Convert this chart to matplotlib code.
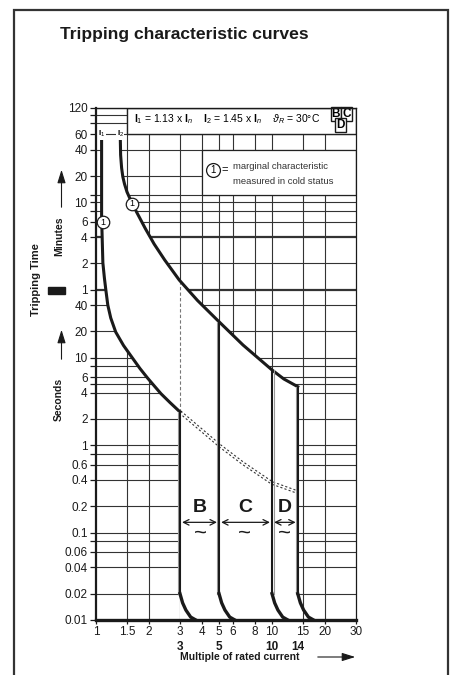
import numpy as np
import matplotlib.pyplot as plt
import matplotlib.patheffects as pe
from matplotlib.patches import Rectangle

plt.rcParams['font.family'] = ['Liberation Sans', 'DejaVu Sans']
plt.rcParams['mathtext.fontset'] = 'custom'
plt.rcParams['mathtext.rm'] = 'Liberation Sans'
plt.rcParams['mathtext.it'] = 'Liberation Sans:italic'
plt.rcParams['mathtext.bf'] = 'Liberation Sans:bold'

# time axis in seconds (upper part labelled in minutes)
y_ticks = [0.01, 0.02, 0.04, 0.06, 0.1, 0.2, 0.4, 0.6, 1, 2, 4, 6, 10, 20, 40,
           60, 120, 240, 360, 600, 1200, 2400, 3600, 7200]
y_labels = ['0.01', '0.02', '0.04', '0.06', '0.1', '0.2', '0.4', '0.6', '1', '2', '4', '6',
            '10', '20', '40', '1', '2', '4', '6', '10', '20', '40', '60', '120']
y_minor = [0.08, 0.8, 5, 8, 480, 720, 4800, 6000]
y_thick = [60, 240]

x_ticks = [1, 1.5, 2, 3, 4, 5, 6, 8, 10, 15, 20, 30]
x_labels = ['1', '1.5', '2', '3', '4', '5', '6', '8', '10', '15', '20', '30']

# magnetic trip limits (bold second row) and top of each vertical line
x_limits = [3, 5, 10, 14]
limit_top = [2.4, 25.8, 7.25, 4.67]
limit_side = [-1.5, -1.5, 1.5, -1.5]

# lower thermal curve (I1) and upper thermal curve (I2)
lower_x = [1.076, 1.076, 1.087, 1.094, 1.116, 1.137, 1.167, 1.213, 1.294, 1.434,
           1.607, 1.776, 1.962, 2.144, 2.34, 2.63, 3.0]
lower_t = [3300, 408, 195, 122, 81.9, 60, 40, 28.5, 19.7, 13.8,
           10, 7.55, 5.87, 4.76, 3.88, 3.08, 2.4]
upper_x = [1.374, 1.38, 1.398, 1.42, 1.452, 1.5, 1.567, 1.668, 1.906, 2.14, 2.456, 2.97,
           3.77, 4.88, 6.84, 10, 11.67, 14]
upper_t = [3300, 2090, 1484, 1180, 974, 789, 647, 500, 301, 200, 131.5, 77.6,
           45.3, 27.1, 14.0, 7.25, 5.72, 4.67]

# dashed guide at 3 x In between the two curves
dashed_t = [2.4, 77]

# dotted continuation of lower curve
dotted_x = [3, 5.07, 6.84, 10, 14]
dotted_t = [2.4, 0.98, 0.62, 0.37, 0.29]

# bottom tails of the magnetic lines (ratio to limit, time)
tail_ratio = [1, 1.035, 1.08, 1.15, 1.23]
tail_t = [0.02, 0.0157, 0.013, 0.0108, 0.01]

# curve markers "1"
marker_x = [1.10, 1.60]
marker_t = [355, 580]

# B / C / D ranges
band_names = ['B', 'C', 'D']
band_lo = [3, 5, 10]
band_hi = [5, 10, 14]
band_mid = [3.9, 7.0, 11.8]

fig = plt.figure(figsize=(4.62, 6.75), dpi=100)
ax = fig.add_axes([96 / 462, 1 - 620 / 675, 260 / 462, 512 / 675])
ax.set_xscale('log')
ax.set_yscale('log')
ax.set_xlim(1, 30)
ax.set_ylim(0.01, 7200)

grid_c = '#333333'
for t in y_ticks + y_minor:
    ax.axhline(t, color=grid_c, lw=1.6 if t in y_thick else 0.8, zorder=1)
for x in x_ticks[1:-1]:
    ax.axvline(x, color=grid_c, lw=0.8, zorder=1)

# white area between the curves
poly_x = lower_x + [3, 14] + upper_x[::-1]
poly_t = lower_t + [0.01, 0.01] + upper_t[::-1]
ax.fill(poly_x, poly_t, color='white', zorder=2, lw=0)

# header box and legend box
ax.add_patch(Rectangle((1.5, 3600), 28.5, 3600, facecolor='white', edgecolor='#222222',
                       lw=1, zorder=3))
ax.add_patch(Rectangle((4, 720), 26, 1680, facecolor='white', edgecolor='#222222',
                       lw=0.9, zorder=3))

ax.plot(lower_x, lower_t, color='#1a1a1a', lw=2.2, zorder=4, solid_joinstyle='round')
ax.plot(upper_x, upper_t, color='#1a1a1a', lw=2.2, zorder=4, solid_joinstyle='round')

ax.plot([x_limits[0], x_limits[0]], dashed_t, color='#777777', lw=0.8,
        ls=(0, (3, 2)), zorder=3)

# dotted double line
ax.plot(dotted_x, dotted_t, color='#333333', lw=2.6, ls=(0, (0.6, 0.6)), zorder=3)
ax.plot(dotted_x, dotted_t, color='white', lw=1.0, zorder=3)

for xl, top, side in zip(x_limits, limit_top, limit_side):
    ax.plot([xl, xl], [top, tail_t[0]], color='#1a1a1a', lw=1.5, zorder=4,
            path_effects=[pe.Stroke(linewidth=0.8, foreground='#999999', offset=(side, 0)),
                          pe.Normal()])
    ax.plot([xl * r for r in tail_ratio], tail_t, color='#1a1a1a', lw=2.4, zorder=4)

for mx, mt in zip(marker_x, marker_t):
    ax.plot(mx, mt, 'o', ms=9, mfc='white', mec='#1a1a1a', mew=0.9, zorder=5)
    ax.text(mx, mt, '1', ha='center', va='center', fontsize=6.5, zorder=6)

# legend text
ax.plot(4.6, 1400, 'o', ms=10, mfc='white', mec='#1a1a1a', mew=0.9, zorder=5)
ax.text(4.6, 1400, '1', ha='center', va='center', fontsize=7, zorder=6)
ax.text(5.15, 1400, '=', ha='left', va='center', fontsize=8, zorder=6)
ax.text(6.0, 1530, 'marginal characteristic', ha='left', va='center', fontsize=6.8,
        color='#333333', zorder=6)
ax.text(6.0, 1040, 'measured in cold status', ha='left', va='center', fontsize=6.8,
        color='#333333', zorder=6)

# header text
ax.text(0.145, 0.979, r'$\mathbf{I}_1$ = 1.13 x $\mathbf{I}_n$    $\mathbf{I}_2$ = 1.45 x $\mathbf{I}_n$    '
        r'$\vartheta_R$ = 30°C', transform=ax.transAxes, ha='left', va='center',
        fontsize=7.5, zorder=6)
for name, bx, by in [('B', 0.922, 0.989), ('C', 0.964, 0.989), ('D', 0.940, 0.967)]:
    ax.text(bx, by, name, transform=ax.transAxes, ha='center', va='center', fontsize=8.5,
            fontweight='bold', zorder=6,
            bbox=dict(boxstyle='square,pad=0.08', fc='white', ec='#1a1a1a', lw=1))

for lx, lab in zip([lower_x[0], upper_x[0]], ['1', '2']):
    ax.text(lx, 3600, r'$\mathbf{I}_%s$' % lab, ha='center', va='center', fontsize=6,
            zorder=6, bbox=dict(boxstyle='square,pad=0.05', fc='white', ec='none'))

for name, lo, hi, mid in zip(band_names, band_lo, band_hi, band_mid):
    ax.text(mid, 0.195, name, ha='center', va='center', fontsize=14, fontweight='bold',
            color='#1a1a1a', zorder=6)
    ax.annotate('', xy=(lo, 0.131), xytext=(hi, 0.131),
                arrowprops=dict(arrowstyle='<->', lw=0.9, color='#1a1a1a',
                                shrinkA=1.5, shrinkB=1.5), zorder=6)
    ax.text(mid, 0.098, '~', ha='center', va='center', fontsize=16, color='#1a1a1a', zorder=6)

ax.set_xticks(x_ticks)
ax.set_xticklabels(x_labels)
ax.set_xticks([], minor=True)
ax.set_yticks(y_ticks)
ax.set_yticklabels(y_labels)
ax.set_yticks(y_minor, minor=True)
ax.tick_params(axis='both', which='both', direction='out', color='#1a1a1a',
               labelsize=8.5, labelcolor='#1a1a1a')
ax.tick_params(axis='y', which='major', length=4, width=0.9, pad=2)
ax.tick_params(axis='y', which='minor', length=4, width=0.9)
ax.tick_params(axis='x', which='major', length=3, width=0.9, pad=1.5)

for xl in x_limits:
    ax.text(xl, -0.052, str(xl), transform=ax.get_xaxis_transform(), ha='center',
            va='center', fontsize=8.5, fontweight='bold', color='#1a1a1a')

ax.spines['left'].set_linewidth(1.6)
ax.spines['bottom'].set_linewidth(2.4)
ax.spines['right'].set_linewidth(0.9)
ax.spines['top'].set_linewidth(1.0)
for s in ax.spines.values():
    s.set_color('#1a1a1a')
    s.set_zorder(7)

# figure texts
fig.text(60 / 462, 1 - 35 / 675, 'Tripping characteristic curves', ha='left', va='center',
         fontsize=12.6, fontweight='bold', color='#1a1a1a')
fig.text(36 / 462, 1 - 280 / 675, 'Tripping Time', rotation=90, ha='center', va='center',
         fontsize=8, fontweight='bold', color='#1a1a1a')
fig.add_artist(Rectangle((48 / 462, 1 - 294 / 675), 17 / 462, 7 / 675,
                         transform=fig.transFigure, color='#1a1a1a'))
fig.text(59 / 462, 1 - 236 / 675, 'Minutes', rotation=90, ha='center', va='center',
         fontsize=7.5, fontweight='bold', color='#1a1a1a')
fig.text(59 / 462, 1 - 399 / 675, 'Seconds', rotation=90, ha='center', va='center',
         fontsize=7.5, fontweight='bold', color='#1a1a1a')
for y0, y1 in [(210, 167), (362, 327)]:
    fig.add_artist(plt.Annotation('', xy=(61.5 / 462, 1 - y1 / 675),
                                  xytext=(61.5 / 462, 1 - y0 / 675),
                                  xycoords='figure fraction', textcoords='figure fraction',
                                  arrowprops=dict(arrowstyle='-|>,head_length=0.8,head_width=0.25',
                                                  lw=0.8, color='#1a1a1a')))
fig.text(240 / 462, 1 - 657 / 675, 'Multiple of rated current', ha='center', va='center',
         fontsize=7.5, fontweight='bold', color='#1a1a1a')
fig.add_artist(plt.Annotation('', xy=(358 / 462, 1 - 657 / 675), xytext=(315 / 462, 1 - 657 / 675),
                              xycoords='figure fraction', textcoords='figure fraction',
                              arrowprops=dict(arrowstyle='-|>,head_length=0.8,head_width=0.25',
                                              lw=0.8, color='#1a1a1a')))

# outer frame
fig.add_artist(Rectangle((14 / 462, -0.02), 434 / 462, 1 - 10 / 675 + 0.02,
                         transform=fig.transFigure, fill=False, ec='#333333', lw=1.6))

fig.savefig('out.png', dpi=100)
